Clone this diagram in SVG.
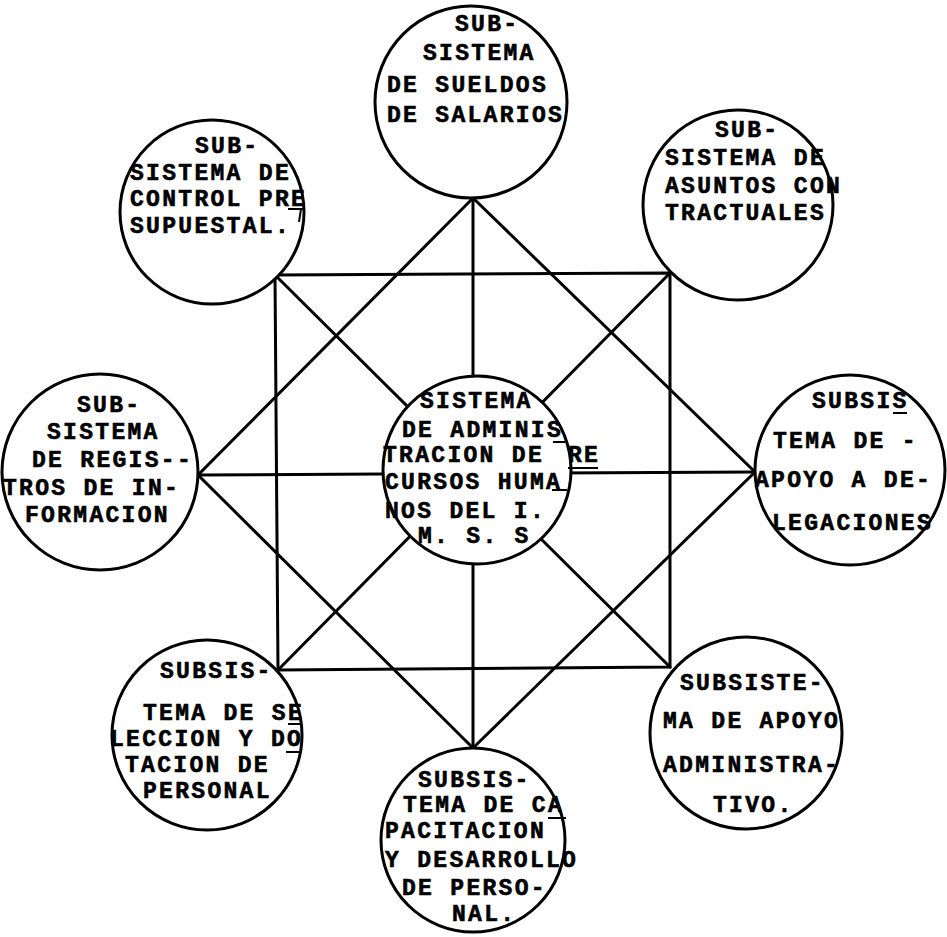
<svg xmlns="http://www.w3.org/2000/svg" width="947" height="937" viewBox="0 0 947 937">
<style>
.ln{stroke:#000;stroke-width:3;fill:none;stroke-linecap:round}
.nd{fill:#fff;stroke:#000;stroke-width:3}
.tx{font-family:"Liberation Mono","Courier New",monospace;font-weight:bold;font-size:23px;letter-spacing:2.3px;fill:#000;stroke:#000;stroke-width:0.6px}
.mk{stroke:#000;stroke-width:2;fill:none}
</style>
<rect width="947" height="937" fill="#fff"/>
<g id="connectors" class="ln">
<polygon points="275,275 670,273 670,667 278,670"/>
<line x1="275" y1="275" x2="670" y2="667"/>
<line x1="670" y1="273" x2="278" y2="670"/>
<polygon points="473,198 755,472 473,748 198,475"/>
<line x1="473" y1="198" x2="473" y2="748"/>
<line x1="198" y1="475" x2="755" y2="472"/>
</g>
<g id="n-center"><circle class="nd" cx="477" cy="470" r="94"/>
<text class="tx" x="420" y="408">SISTEMA</text>
<text class="tx" x="402" y="437">DE ADMINIS</text>
<text class="tx" x="383" y="462">TRACION DE</text>
<text class="tx" x="568" y="462">RE</text>
<text class="tx" x="385" y="489">CURSOS HUMA</text>
<text class="tx" x="385" y="518">NOS DEL I.</text>
<text class="tx" x="418" y="543">M. S. S</text>
</g>
<g id="n-top"><circle class="nd" cx="471" cy="102" r="96"/>
<text class="tx" x="455" y="31">SUB-</text>
<text class="tx" x="423" y="60">SISTEMA</text>
<text class="tx" x="387" y="92">DE SUELDOS</text>
<text class="tx" x="387" y="122">DE SALARIOS</text>
</g>
<g id="n-topleft"><circle class="nd" cx="212" cy="212" r="92"/>
<text class="tx" x="195" y="153">SUB-</text>
<text class="tx" x="130" y="180">SISTEMA DE</text>
<text class="tx" x="130" y="206">CONTROL PRE</text>
<text class="tx" x="130" y="233">SUPUESTAL.</text>
</g>
<g id="n-topright"><circle class="nd" cx="738" cy="205" r="95"/>
<text class="tx" x="715" y="137">SUB-</text>
<text class="tx" x="665" y="165">SISTEMA DE</text>
<text class="tx" x="665" y="193">ASUNTOS CON</text>
<text class="tx" x="665" y="220">TRACTUALES</text>
</g>
<g id="n-left"><circle class="nd" cx="100" cy="472" r="98"/>
<text class="tx" x="77" y="412">SUB-</text>
<text class="tx" x="47" y="439">SISTEMA</text>
<text class="tx" x="32" y="467">DE REGIS--</text>
<text class="tx" x="3" y="495">TROS DE IN-</text>
<text class="tx" x="25" y="522">FORMACION</text>
</g>
<g id="n-right"><circle class="nd" cx="850" cy="470" r="95"/>
<text class="tx" x="812" y="408">SUBSIS</text>
<text class="tx" x="773" y="448">TEMA DE -</text>
<text class="tx" x="755" y="487">APOYO A DE-</text>
<text class="tx" x="772" y="530">LEGACIONES</text>
</g>
<g id="n-bottomleft"><circle class="nd" cx="207" cy="735" r="95"/>
<text class="tx" x="160" y="678">SUBSIS-</text>
<text class="tx" x="143" y="720">TEMA DE SE</text>
<text class="tx" x="110" y="746">LECCION Y DO</text>
<text class="tx" x="125" y="772">TACION DE</text>
<text class="tx" x="143" y="798">PERSONAL</text>
</g>
<g id="n-bottomright"><circle class="nd" cx="746" cy="733" r="96"/>
<text class="tx" x="680" y="690">SUBSISTE-</text>
<text class="tx" x="663" y="728">MA DE APOYO</text>
<text class="tx" x="663" y="772">ADMINISTRA-</text>
<text class="tx" x="713" y="812">TIVO.</text>
</g>
<g id="n-bottom"><circle class="nd" cx="473" cy="840" r="92"/>
<text class="tx" x="418" y="787">SUBSIS-</text>
<text class="tx" x="403" y="812">TEMA DE CA</text>
<text class="tx" x="385" y="838">PACITACION</text>
<text class="tx" x="385" y="867">Y DESARROLLO</text>
<text class="tx" x="402" y="895">DE PERSO-</text>
<text class="tx" x="452" y="921">NAL.</text>
</g>
<g id="marks" class="mk">
<line x1="288" y1="209" x2="303" y2="209"/><line x1="301" y1="209" x2="299" y2="222"/>
<line x1="553" y1="442" x2="565" y2="442"/>
<line x1="568" y1="468" x2="598" y2="468"/>
<line x1="552" y1="490" x2="567" y2="490"/>
<line x1="893" y1="413" x2="907" y2="413"/>
<line x1="288" y1="724" x2="302" y2="724"/>
<line x1="286" y1="752" x2="300" y2="752"/>
<line x1="548" y1="818" x2="566" y2="818"/>
</g>
</svg>
